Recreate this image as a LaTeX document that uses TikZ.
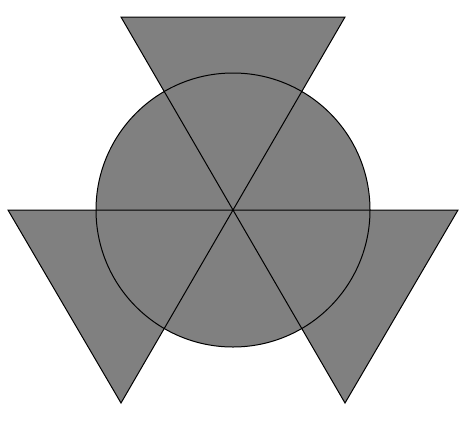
\documentclass[tikz,border=0pt]{standalone}
\usetikzlibrary{calc}
\definecolor{fillgray}{RGB}{128,128,128}
\tikzset{
	shade/.style={fill=fillgray},
	rim/.style={color=black, line width=1pt, line join=miter}
}
\begin{document}
\begin{tikzpicture}[x=1pt,y=-1pt]
	\useasboundingbox (0,0) rectangle (470,423);
	%%%corners
	\coordinate (c) at (233,210);
	\coordinate (t1) at (121,17);
	\coordinate (t2) at (345,17);
	\coordinate (l1) at (8,210);
	\coordinate (l2) at (121,403);
	\coordinate (r1) at (458,210);
	\coordinate (r2) at (345,403);

	%%%fills
	\fill[shade] (c) circle (137pt);
	\fill[shade] (t1) -- (t2) -- (c) -- cycle;
	\fill[shade] (l1) -- (c) -- (l2) -- cycle;
	\fill[shade] (c) -- (r1) -- (r2) -- cycle;

	%%%outlines
	\draw[rim] (c) circle (137pt);
	\draw[rim] (t1) -- (t2) -- (c) -- cycle;
	\draw[rim] (l1) -- (c) -- (l2) -- cycle;
	\draw[rim] (c) -- (r1) -- (r2) -- cycle;

\end{tikzpicture}
\end{document}
